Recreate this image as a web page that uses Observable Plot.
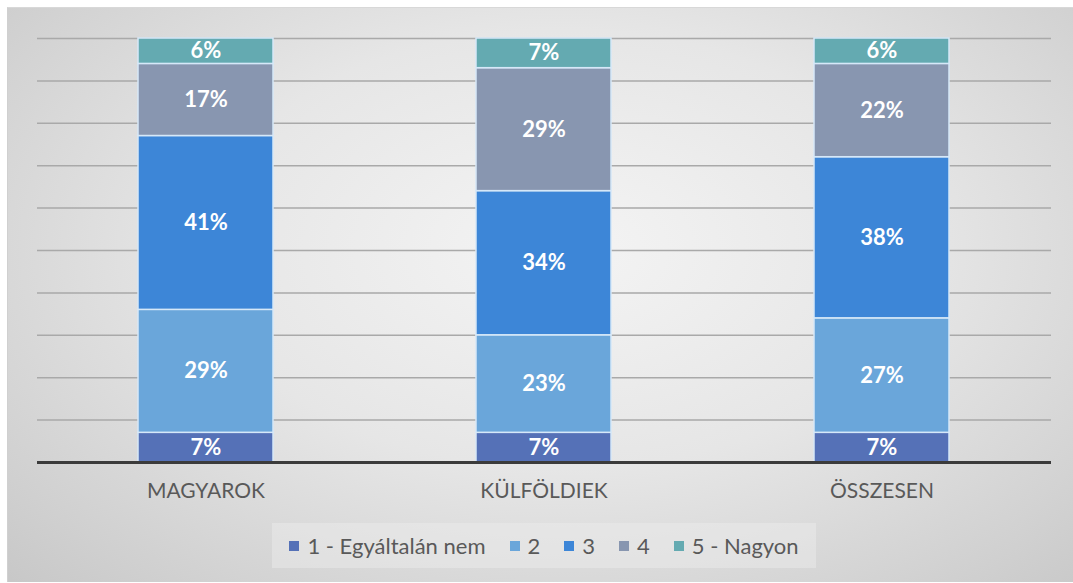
<!DOCTYPE html>
<html>
<head>
<meta charset="utf-8">
<script src="https://cdn.jsdelivr.net/npm/d3@7"></script>
<script src="https://cdn.jsdelivr.net/npm/@observablehq/plot@0.6"></script>
<style>
  html, body { margin: 0; padding: 0; background: #ffffff; }
  #wrap { position: relative; width: 1073px; height: 583px; overflow: hidden; }
  #frame {
    position: absolute; left: 7px; top: 7px; width: 1066px; height: 574px;
    background: radial-gradient(ellipse 75% 85% at 52% 42%, #f4f4f4 0%, #e6e6e6 45%, #cfcfcf 85%, #c6c6c6 100%);
    border-top: 1px solid #d8d8d8; border-left: 1px solid #d0d0d0;
  }
  #chart { position: absolute; left: 0; top: 0; }
  #legend {
    position: absolute; left: 272px; top: 523px; width: 544px; height: 45px;
    background: rgba(238,238,238,0.45);
    display: flex; align-items: center; justify-content: center;
    font-family: Lato, "Open Sans", sans-serif; font-size: 22px; color: #595959;
  }
  .item { display: flex; align-items: center; margin: 0 12px; }
  .sw { width: 10px; height: 10px; margin-right: 8px; }
</style>
</head>
<body>
<div id="wrap">
  <div id="frame"></div>
  <div id="chart"></div>
  <div id="legend"></div>
</div>
<script>
const categories = ["MAGYAROK", "KÜLFÖLDIEK", "ÖSSZESEN"];
const levels = ["1 - Egyáltalán nem", "2", "3", "4", "5 - Nagyon"];
const colors = ["#5571b7", "#6aa6da", "#3d86d7", "#8896b0", "#64aab1"];
// percentage per level (bottom to top), per category
const level1 = [7, 7, 7];
const level2 = [29, 23, 27];
const level3 = [41, 34, 38];
const level4 = [17, 29, 22];
const level5 = [6, 7, 6];
const gridTicks = [10, 20, 30, 40, 50, 60, 70, 80, 90, 100];

const series = [level1, level2, level3, level4, level5];
const rows = [];
categories.forEach((c, ci) => {
  let acc = 0;
  series.forEach((s, li) => {
    const v = s[ci];
    rows.push({cat: c, level: levels[li], value: v, y1: acc, y2: acc + v, mid: acc + v / 2});
    acc += v;
  });
});

const chart = Plot.plot({
  width: 1073,
  height: 520,
  marginLeft: 37,
  marginRight: 22,
  marginTop: 38,
  marginBottom: 58,
  style: {background: "transparent", fontFamily: "Lato, 'Open Sans', sans-serif"},
  x: {domain: categories, paddingInner: 0.6, paddingOuter: 0.3, label: null},
  y: {domain: [0, 100], axis: null},
  color: {domain: levels, range: colors},
  marks: [
    Plot.ruleY(gridTicks, {stroke: "#a9a9a9", strokeWidth: 1.5}),
    Plot.rectY(rows, {x: "cat", y1: "y1", y2: "y2", fill: "level", stroke: "#d6e8f8", strokeWidth: 1.5}),
    Plot.text(rows, {x: "cat", y: "mid", text: d => d.value + "%", fill: "#ffffff", fontWeight: "bold", fontSize: 22}),
    Plot.ruleY([0], {stroke: "#3b3b3b", strokeWidth: 3}),
    Plot.axisX({tickSize: 0, tickPadding: 21, fontSize: 21, color: "#595959", label: null})
  ]
});
document.getElementById("chart").appendChild(chart);

const legend = document.getElementById("legend");
levels.forEach((l, i) => {
  const it = document.createElement("div");
  it.className = "item";
  const sw = document.createElement("span");
  sw.className = "sw";
  sw.style.background = colors[i];
  const tx = document.createElement("span");
  tx.textContent = l;
  it.appendChild(sw);
  it.appendChild(tx);
  legend.appendChild(it);
});
</script>
</body>
</html>
